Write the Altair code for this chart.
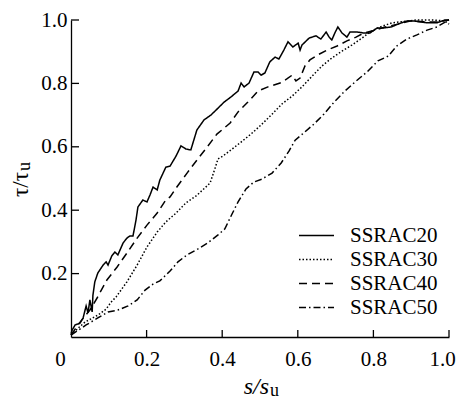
import altair as alt
import pandas as pd

series_names = ["SSRAC20", "SSRAC30", "SSRAC40", "SSRAC50"]

s20_x = [0.000, 0.003, 0.011, 0.024, 0.032, 0.040, 0.045, 0.050, 0.056, 0.058, 0.063, 0.071,
         0.085, 0.093, 0.098, 0.108, 0.116, 0.124, 0.138, 0.148, 0.156, 0.164, 0.172, 0.177,
         0.190, 0.201, 0.209, 0.217, 0.228, 0.235, 0.251, 0.262, 0.278, 0.291, 0.304, 0.317,
         0.333, 0.352, 0.370, 0.389, 0.405, 0.423, 0.442, 0.450, 0.458, 0.471, 0.484, 0.495,
         0.503, 0.513, 0.526, 0.540, 0.550, 0.563, 0.574, 0.587, 0.601, 0.606, 0.611, 0.630,
         0.648, 0.661, 0.675, 0.683, 0.690, 0.698, 0.706, 0.717, 0.730, 0.738, 0.757, 0.775,
         0.791, 0.810, 0.828, 0.847, 0.865, 0.889, 0.907, 0.923, 0.942, 0.968, 0.989, 1.000]
s20_y = [0.010, 0.022, 0.038, 0.044, 0.060, 0.098, 0.076, 0.117, 0.079, 0.132, 0.174, 0.202,
         0.227, 0.237, 0.227, 0.256, 0.268, 0.259, 0.297, 0.312, 0.319, 0.319, 0.369, 0.410,
         0.432, 0.426, 0.448, 0.473, 0.464, 0.495, 0.536, 0.539, 0.571, 0.603, 0.593, 0.590,
         0.653, 0.685, 0.700, 0.722, 0.741, 0.757, 0.776, 0.801, 0.789, 0.801, 0.836, 0.836,
         0.826, 0.833, 0.868, 0.883, 0.877, 0.905, 0.931, 0.915, 0.927, 0.905, 0.921, 0.943,
         0.950, 0.940, 0.962, 0.946, 0.937, 0.959, 0.978, 0.959, 0.946, 0.962, 0.962, 0.959,
         0.959, 0.975, 0.975, 0.978, 0.987, 0.997, 0.997, 0.994, 0.991, 0.991, 1.000, 1.000]

s30_x = [0.000, 0.019, 0.037, 0.071, 0.093, 0.106, 0.119, 0.148, 0.175, 0.201, 0.228, 0.251,
         0.278, 0.304, 0.331, 0.354, 0.368, 0.378, 0.389, 0.402, 0.423, 0.450, 0.476, 0.503,
         0.532, 0.558, 0.585, 0.611, 0.638, 0.664, 0.690, 0.717, 0.743, 0.770, 0.791, 0.817,
         0.849, 0.870, 0.915, 0.958, 0.989, 1.000]
s30_y = [0.006, 0.028, 0.047, 0.069, 0.088, 0.110, 0.126, 0.174, 0.227, 0.284, 0.331, 0.363,
         0.391, 0.423, 0.445, 0.470, 0.486, 0.521, 0.562, 0.571, 0.590, 0.615, 0.640, 0.669,
         0.703, 0.735, 0.760, 0.789, 0.823, 0.855, 0.880, 0.902, 0.921, 0.943, 0.962, 0.978,
         0.991, 0.994, 1.000, 1.000, 0.997, 0.987]

s40_x = [0.000, 0.024, 0.050, 0.069, 0.095, 0.122, 0.148, 0.175, 0.201, 0.228, 0.249, 0.262,
         0.280, 0.307, 0.333, 0.360, 0.386, 0.421, 0.442, 0.468, 0.495, 0.521, 0.553, 0.571,
         0.585, 0.595, 0.606, 0.619, 0.632, 0.653, 0.677, 0.704, 0.730, 0.754, 0.775, 0.796,
         0.831, 0.865, 0.897, 0.937, 0.968, 1.000]
s40_y = [0.006, 0.047, 0.085, 0.123, 0.180, 0.221, 0.265, 0.312, 0.353, 0.391, 0.429, 0.442,
         0.473, 0.517, 0.558, 0.599, 0.640, 0.675, 0.710, 0.741, 0.776, 0.789, 0.801, 0.814,
         0.826, 0.808, 0.817, 0.855, 0.874, 0.890, 0.905, 0.918, 0.934, 0.946, 0.959, 0.965,
         0.978, 0.987, 0.997, 0.994, 0.994, 1.000]

s50_x = [0.000, 0.040, 0.071, 0.098, 0.124, 0.151, 0.175, 0.196, 0.217, 0.235, 0.262, 0.283,
         0.307, 0.336, 0.362, 0.389, 0.407, 0.426, 0.442, 0.463, 0.484, 0.505, 0.532, 0.556,
         0.577, 0.593, 0.616, 0.643, 0.669, 0.696, 0.722, 0.751, 0.783, 0.812, 0.839, 0.862,
         0.889, 0.915, 0.942, 0.968, 0.995, 1.000]
s50_y = [0.006, 0.038, 0.060, 0.079, 0.085, 0.098, 0.117, 0.148, 0.167, 0.177, 0.208, 0.237,
         0.259, 0.278, 0.297, 0.322, 0.341, 0.388, 0.426, 0.467, 0.489, 0.498, 0.517, 0.549,
         0.587, 0.621, 0.644, 0.672, 0.703, 0.741, 0.773, 0.804, 0.836, 0.871, 0.886, 0.918,
         0.940, 0.953, 0.968, 0.978, 0.997, 1.000]

x_tick_values = [0, 0.2, 0.4, 0.6, 0.8, 1.0]
y_tick_values = [0.2, 0.4, 0.6, 0.8, 1.0]
inner_ticks = [0.2, 0.4, 0.6, 0.8, 1.0]

x_title_main, x_title_sub = "s/s", "u"
y_title_main, y_title_sub = "τ/τ", "u"

dash_styles = [[1, 0], [1.5, 2], [8, 5], [7, 3, 1.5, 3]]

rows = []
for name, xs, ys in zip(series_names, [s20_x, s30_x, s40_x, s50_x], [s20_y, s30_y, s40_y, s50_y]):
    for i, (a, b) in enumerate(zip(xs, ys)):
        rows.append({"series": name, "x": a, "y": b, "i": i})
df = pd.DataFrame(rows)

W, H = 378, 317
FONT = "Liberation Serif"
xscale = alt.Scale(domain=[0, 1], nice=False, zero=True)
yscale = alt.Scale(domain=[0, 1], nice=False)

x_axis = alt.Axis(
    values=x_tick_values, title=None, ticks=False, grid=False,
    domainColor="black", domainWidth=1.3, labelFlush=False,
    labelExpr="datum.value == 0 ? '0' : format(datum.value, '.1f')",
    labelOffset={"condition": [{"test": "datum.value == 0", "value": -11},
                               {"test": "datum.value == 1", "value": -7}], "value": 0},
    labelPadding=11, labelFont=FONT, labelFontSize=21, labelColor="black")
y_axis = alt.Axis(
    values=y_tick_values, format=".1f", title=None, ticks=False, grid=False,
    domainColor="black", domainWidth=1.3, labelFlush=False,
    labelPadding=4, labelFont=FONT, labelFontSize=21, labelColor="black")

lines = alt.Chart(df).mark_line(color="black", strokeWidth=1.5, strokeCap="butt").encode(
    x=alt.X("x:Q", scale=xscale, axis=x_axis),
    y=alt.Y("y:Q", scale=yscale, axis=y_axis),
    strokeDash=alt.StrokeDash("series:N",
        scale=alt.Scale(domain=series_names, range=dash_styles),
        legend=alt.Legend(orient="none", legendX=235, legendY=205, title=None,
                          symbolType="M-5,0H5", symbolSize=49, symbolStrokeWidth=1.5,
                          symbolStrokeColor="black", labelFont=FONT, labelFontSize=21,
                          labelColor="black", labelOffset=23, rowPadding=2, padding=0)),
    order="i:Q",
)

xt = alt.Chart(pd.DataFrame({"x": inner_ticks})).mark_rule(color="black", strokeWidth=1.3).encode(
    x=alt.X("x:Q", scale=xscale, axis=x_axis), y=alt.value(H), y2=alt.value(H - 7))
yt = alt.Chart(pd.DataFrame({"y": inner_ticks})).mark_rule(color="black", strokeWidth=1.3).encode(
    y=alt.Y("y:Q", scale=yscale, axis=y_axis), x=alt.value(0), x2=alt.value(8))

one = pd.DataFrame({"k": [0]})
xm = alt.Chart(one).mark_text(text=x_title_main, font=FONT, fontSize=24, fontStyle="italic",
                              align="right", baseline="alphabetic", color="black").encode(
    x=alt.value(198), y=alt.value(374))
xs_ = alt.Chart(one).mark_text(text=x_title_sub, font=FONT, fontSize=18,
                               align="left", baseline="alphabetic", color="black").encode(
    x=alt.value(199), y=alt.value(376))
ym = alt.Chart(one).mark_text(text=y_title_main, font=FONT, fontSize=23, angle=270,
                              align="right", baseline="alphabetic", color="black").encode(
    x=alt.value(-43), y=alt.value(152))
ys_ = alt.Chart(one).mark_text(text=y_title_sub, font=FONT, fontSize=18, angle=270,
                               align="left", baseline="alphabetic", color="black").encode(
    x=alt.value(-41), y=alt.value(151))

chart = alt.layer(lines, xt, yt, xm, xs_, ym, ys_).properties(
    width=W, height=H,
    padding={"left": 63, "top": 12, "right": 7, "bottom": 64},
    autosize=alt.AutoSizeParams(type="none"),
).configure_view(stroke=None)

chart.save("out.html", embed_options={"renderer": "svg", "actions": False})
